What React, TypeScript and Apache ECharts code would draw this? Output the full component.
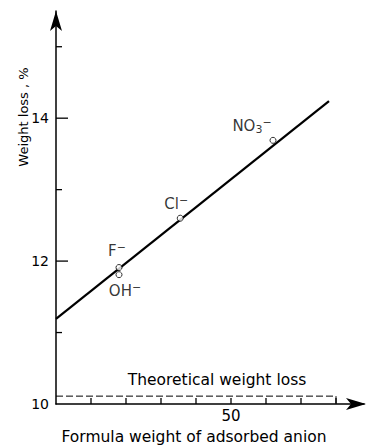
import React, { useEffect, useRef } from "react";
import * as echarts from "echarts";

const anions = ["NO3", "Cl", "F", "OH"];
const formulaWeights = [62, 35.5, 18, 18];
const weightLoss = [13.69, 12.6, 11.91, 11.81];
const fitLine = [
  [0, 11.19],
  [78, 14.24],
];
const theoretical = [
  [0, 10.11],
  [80, 10.11],
  [80, 10.0],
];
const yTickValues = [11, 12, 13, 14, 15];
const yTickLabels = [10, 12, 14];
const xTickValues = [10, 20, 30, 40, 50, 60, 70, 80];
const xTickLabels = [50];

const FONT = "DejaVu Sans";

const labelFor: Record<string, any> = {
  NO3: { text: "NO{sub|3}{sup|−}", offset: [-21, -14] },
  Cl: { text: "Cl{sup|−}", offset: [-4, -14] },
  F: { text: "F{sup|−}", offset: [-2, -17] },
  OH: { text: "OH{sup|−}", offset: [6, 16] },
};

export default function App() {
  const ref = useRef<HTMLDivElement>(null);
  useEffect(() => {
    if (!ref.current) return;
    const chart = echarts.init(ref.current, undefined, { renderer: "svg" });
    const rich = {
      sup: { fontSize: 11, fontFamily: FONT, color: "#000", verticalAlign: "top", lineHeight: 18, padding: [0, 0, 7, 0] },
      sub: { fontSize: 11, fontFamily: FONT, color: "#000", verticalAlign: "bottom", lineHeight: 18, padding: [7, 0, 0, 0] },
    };
    const points = anions.map((a, i) => ({
      value: [formulaWeights[i], weightLoss[i]],
      label: {
        show: true,
        position: "inside",
        formatter: labelFor[a].text,
        offset: labelFor[a].offset,
        fontSize: 15,
        fontFamily: FONT,
        color: "#000",
        align: "center",
        verticalAlign: "middle",
        rich,
      },
    }));
    const tickRender = (isY: boolean) => (params: any, api: any) => {
      const p = api.coord([api.value(0), api.value(1)]);
      const len = api.value(2);
      return {
        type: "line",
        shape: isY
          ? { x1: p[0], y1: p[1], x2: p[0] + len, y2: p[1] }
          : { x1: p[0], y1: p[1], x2: p[0], y2: p[1] - len },
        style: { stroke: "#000", lineWidth: 1.3 },
      };
    };
    chart.setOption({
      animation: false,
      backgroundColor: "#fff",
      grid: { left: 56, right: 2, top: 11, bottom: 43, containLabel: false },
      xAxis: {
        type: "value",
        min: 0,
        max: 88,
        interval: 10,
        axisLine: {
          show: true,
          symbol: ["none", "arrow"],
          symbolSize: [9, 20],
          symbolOffset: [0, 2],
          lineStyle: { color: "#000", width: 1.5 },
        },
        axisTick: { show: false },
        splitLine: { show: false },
        axisLabel: {
          formatter: (v: number) => (xTickLabels.includes(v) ? String(v) : ""),
          color: "#000",
          fontSize: 15,
          fontFamily: FONT,
          margin: 4,
        },
      },
      yAxis: {
        type: "value",
        min: 10,
        max: 15.5,
        interval: 1,
        axisLine: {
          show: true,
          symbol: ["none", "arrow"],
          symbolSize: [9, 20],
          lineStyle: { color: "#000", width: 1.5 },
        },
        axisTick: { show: false },
        splitLine: { show: false },
        axisLabel: {
          formatter: (v: number) => (yTickLabels.includes(v) ? String(v) : ""),
          color: "#000",
          fontSize: 14,
          fontFamily: FONT,
          margin: 7,
        },
      },
      graphic: [
        {
          type: "text",
          x: 23,
          y: 117,
          rotation: Math.PI / 2,
          style: {
            text: "Weight loss , %",
            fontSize: 13,
            fontFamily: FONT,
            fill: "#000",
            align: "center",
            verticalAlign: "middle",
          },
        },
        {
          type: "text",
          x: 194,
          y: 437,
          style: {
            text: "Formula weight of adsorbed anion",
            fontSize: 15.5,
            fontFamily: FONT,
            fill: "#000",
            align: "center",
            verticalAlign: "middle",
          },
        },
        {
          type: "text",
          x: 217,
          y: 380,
          style: {
            text: "Theoretical weight loss",
            fontSize: 15.5,
            fontFamily: FONT,
            fill: "#000",
            align: "center",
            verticalAlign: "middle",
          },
        },
      ],
      series: [
        {
          type: "line",
          data: fitLine,
          symbol: "none",
          lineStyle: { color: "#000", width: 2.2 },
          z: 2,
        },
        {
          type: "line",
          data: theoretical,
          symbol: "none",
          lineStyle: { color: "#000", width: 1, type: [7, 3] },
          z: 2,
        },
        {
          type: "custom",
          renderItem: tickRender(true),
          data: yTickValues.map((v) => [0, v, v % 2 === 0 ? 12 : 6]),
          z: 3,
        },
        {
          type: "custom",
          renderItem: tickRender(false),
          data: xTickValues.map((v) => [v, 10, 6]),
          z: 3,
        },
        {
          type: "scatter",
          data: points,
          symbol: "circle",
          symbolSize: 6,
          itemStyle: { color: "#fff", borderColor: "#000", borderWidth: 1 },
          z: 5,
        },
      ],
    });
    return () => chart.dispose();
  }, []);
  return (
    <div
      ref={ref}
      style={{ position: "absolute", left: 0, top: 0, width: 367, height: 447 }}
    />
  );
}
